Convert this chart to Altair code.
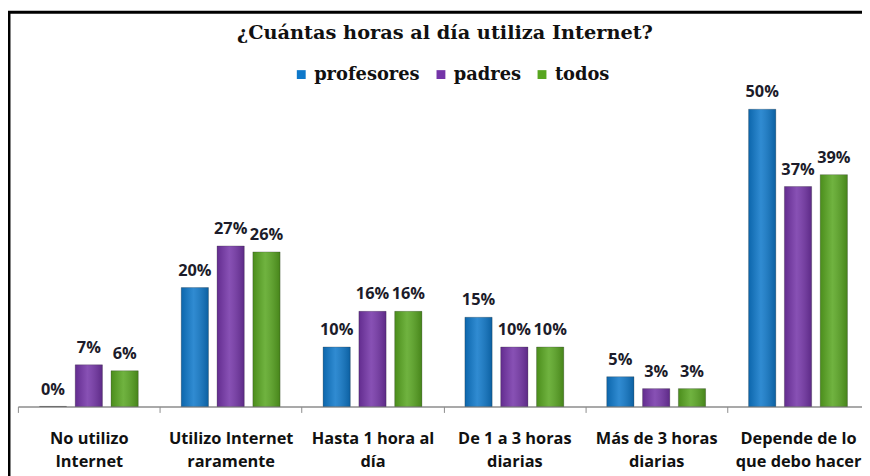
import altair as alt
import pandas as pd

categories = [
    "No utilizo\nInternet",
    "Utilizo Internet\nraramente",
    "Hasta 1 hora  al\ndía",
    "De 1 a 3 horas\ndiarias",
    "Más de 3 horas\ndiarias",
    "Depende de lo\nque debo hacer",
]
series = ["profesores", "padres", "todos"]
profesores = [0, 20, 10, 15, 5, 50]
padres = [7, 27, 16, 10, 3, 37]
todos = [6, 26, 16, 10, 3, 39]
colors = ["#0E78CA", "#7434A8", "#58A620"]
title_text = "¿Cuántas horas al día utiliza Internet?"

rows = []
for name, vals in zip(series, [profesores, padres, todos]):
    for cat, v in zip(categories, vals):
        rows.append({"cat": cat, "serie": name, "valor": v, "etiqueta": f"{v}%"})
df = pd.DataFrame(rows)

W, H = 850, 312
RANGE_W = 859
SERIF = "DejaVu Serif"
SANS = "Open Sans"

x = alt.X(
    "cat:N",
    sort=categories,
    scale=alt.Scale(paddingInner=0, paddingOuter=0, range=[0, RANGE_W]),
    axis=alt.Axis(
        title=None,
        labelAngle=0,
        labelExpr="split(datum.label, '\\n')",
        labelFont=SANS,
        labelFontWeight="bold",
        labelFontSize=16.5,
        labelColor="#111111",
        labelLineHeight=24,
        labelBaseline="top",
        labelPadding=18,
        tickBand="extent",
        tickSize=6,
        tickColor="#8c8c8c",
        domainColor="#8c8c8c",
        domainWidth=1.5,
        labelLimit=220,
    ),
)
xo = alt.XOffset("serie:N", sort=series,
                 scale=alt.Scale(paddingInner=0.24, paddingOuter=0.6))
y = alt.Y("valor:Q", scale=alt.Scale(domain=[0, 52], nice=False, zero=True), axis=None)
color = alt.Color(
    "serie:N",
    sort=series,
    scale=alt.Scale(domain=series, range=colors),
    legend=alt.Legend(
        title=None,
        orient="none",
        direction="horizontal",
        legendX=277,
        legendY=-32,
        symbolType="square",
        symbolSize=80,
        symbolStrokeWidth=0,
        labelFont=SERIF,
        labelFontWeight="bold",
        labelFontSize=18,
        labelColor="#111111",
        labelOffset=4,
        columnPadding=12,
    ),
)

base = alt.Chart(df)

bars = base.mark_bar(stroke="#2a2a2a", strokeOpacity=0.35, strokeWidth=0.8).encode(
    x=x, xOffset=xo, y=y, color=color
)
shine = base.mark_bar(
    fill=alt.LinearGradient(
        gradient="linear", x1=0, x2=1, y1=0, y2=0,
        stops=[
            alt.GradientStop(offset=0, color="rgba(0,0,0,0.15)"),
            alt.GradientStop(offset=0.45, color="rgba(255,255,255,0.14)"),
            alt.GradientStop(offset=1, color="rgba(0,0,0,0.2)"),
        ],
    )
).encode(x=x, xOffset=xo, y=y)
labels = base.mark_text(
    font=SANS, fontWeight="bold", fontSize=16.5, color="#1c1c2a",
    baseline="alphabetic", dy=-12,
).encode(x=x, xOffset=xo, y=y, text="etiqueta:N")

frame = alt.Chart(pd.DataFrame({"f": [0]})).mark_rect(
    filled=False, stroke="black", strokeWidth=3
).encode(
    x=alt.value(-9), x2=alt.value(W + 40), y=alt.value(-86), y2=alt.value(H + 120)
)

chart = alt.layer(frame, bars, shine, labels).properties(
    width=W,
    height=H,
    background="white",
    title=alt.TitleParams(
        title_text,
        font=SERIF,
        fontWeight="bold",
        fontSize=19.5,
        color="#111111",
        anchor="middle",
        offset=0,
        dy=33,
        dx=6,
    ),
    padding={"left": 10, "top": 88, "right": 2, "bottom": 70},
    autosize=alt.AutoSizeParams(type="none"),
).configure_view(strokeWidth=0, stroke="transparent")

chart.save("out.html", embed_options={"renderer": "svg", "actions": False})
